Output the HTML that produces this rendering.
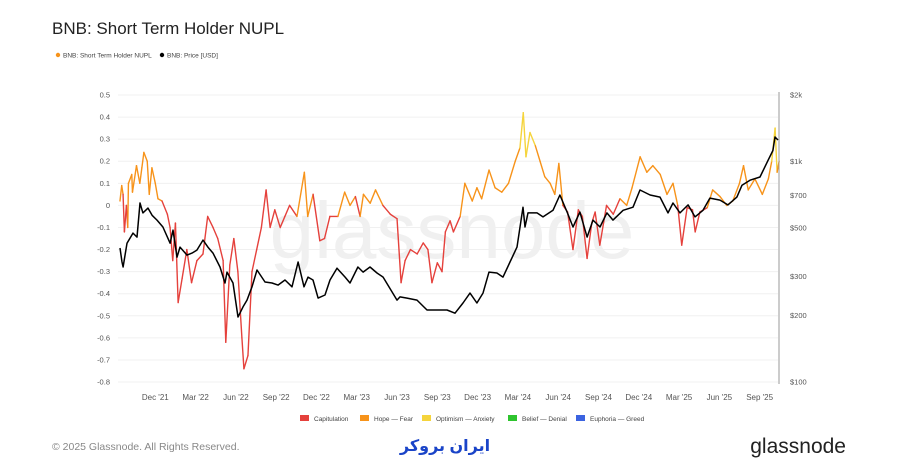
<!DOCTYPE html>
<html><head><meta charset="utf-8">
<style>
body{margin:0;background:#fff;width:900px;height:471px;overflow:hidden;font-family:"Liberation Sans",sans-serif;}
svg{position:absolute;left:0;top:0}
</style></head>
<body>
<svg id="chart" width="900" height="471">
<text x="52" y="34" font-size="17" fill="#222">BNB: Short Term Holder NUPL</text>
<g>
<circle cx="58" cy="55" r="2.2" fill="#f7931a"/>
<text x="63" y="57.5" font-size="6.5" fill="#444">BNB: Short Term Holder NUPL</text>
<circle cx="162" cy="55" r="2.2" fill="#000"/>
<text x="167" y="57.5" font-size="6.5" fill="#444">BNB: Price [USD]</text>
</g>
<text x="452" y="258" font-size="80" fill="#f0f0f0" text-anchor="middle">glassnode</text>
<g id="grid"></g><g id="axes"></g><g id="series"></g>
<line x1="779" y1="92" x2="779" y2="384" stroke="#999" stroke-width="1"/>
<g font-size="6.5" fill="#444">
<rect x="300" y="415" width="9" height="6" fill="#e5413c"/><text x="314" y="421">Capitulation</text>
<rect x="360" y="415" width="9" height="6" fill="#f7931a"/><text x="374" y="421">Hope — Fear</text>
<rect x="422" y="415" width="9" height="6" fill="#f5d43c"/><text x="436" y="421">Optimism — Anxiety</text>
<rect x="508" y="415" width="9" height="6" fill="#2ec42e"/><text x="522" y="421">Belief — Denial</text>
<rect x="576" y="415" width="9" height="6" fill="#3b63e0"/><text x="590" y="421">Euphoria — Greed</text>
</g>
<text x="52" y="450" font-size="10.5" fill="#888">© 2025 Glassnode. All Rights Reserved.</text>
<text x="445" y="451" font-size="16" font-weight="bold" fill="#1a44c8" text-anchor="middle" font-family="'Liberation Sans','DejaVu Sans',sans-serif">ایران بروکر</text>
<text x="846" y="453" font-size="21" fill="#222" text-anchor="end">glassnode</text>
</svg>
<script>
const nuplTicks=[0.5,0.4,0.3,0.2,0.1,0,-0.1,-0.2,-0.3,-0.4,-0.5,-0.6,-0.7,-0.8];
const priceTicks=[2000,1000,700,500,300,200,100];
const priceTickLabels=["$2k","$1k","$700","$500","$300","$200","$100"];
const monthLabels=["Dec '21","Mar '22","Jun '22","Sep '22","Dec '22","Mar '23","Jun '23","Sep '23","Dec '23","Mar '24","Jun '24","Sep '24","Dec '24","Mar '25","Jun '25","Sep '25"];
const monthLabelT=[3,6,9,12,15,18,21,24,27,30,33,36,39,42,45,48];
const nuplT=[0.37,0.5,0.6,0.7,0.85,0.95,1.0,1.25,1.3,1.6,1.85,2.0,2.15,2.4,2.55,2.75,3.0,3.2,3.5,3.9,4.1,4.3,4.5,4.7,5.0,5.35,5.7,6.1,6.55,6.9,7.3,7.65,8.05,8.25,8.55,8.85,9.15,9.45,9.6,9.9,10.2,10.55,10.9,11.25,11.55,11.9,12.3,12.65,13.0,13.55,14.1,14.35,14.75,15.25,15.6,16.0,16.6,17.1,17.5,17.9,18.25,18.5,19.0,19.4,19.95,20.5,21.0,21.3,21.6,22.0,22.5,22.95,23.3,23.6,24.0,24.35,24.6,24.95,25.2,25.7,26.05,26.6,26.95,27.3,27.85,28.3,28.8,29.3,29.8,30.15,30.4,30.6,30.9,31.3,31.65,32.0,32.4,32.75,33.05,33.35,33.7,34.1,34.5,34.8,35.15,35.5,35.75,36.1,36.6,37.1,37.6,38.1,38.5,39.1,39.6,40.05,40.6,41.1,41.55,41.9,42.2,42.6,43.0,43.2,43.55,44.1,44.5,45.05,45.55,46.0,46.5,46.8,47.15,47.65,48.2,48.65,48.9,49.15,49.3,49.45];
const nuplV=[0.02,0.09,0.05,-0.12,0.0,-0.1,0.1,0.14,0.06,0.18,0.1,0.17,0.24,0.2,0.05,0.17,0.1,0.03,0.02,-0.04,-0.1,-0.25,-0.08,-0.44,-0.33,-0.2,-0.35,-0.25,-0.22,-0.05,-0.1,-0.15,-0.25,-0.62,-0.27,-0.15,-0.3,-0.6,-0.74,-0.68,-0.3,-0.2,-0.1,0.07,-0.1,-0.02,-0.1,-0.05,0.0,-0.05,0.15,-0.05,0.05,-0.16,-0.15,-0.05,-0.05,0.06,0.0,0.04,-0.05,0.05,0.01,0.07,0.0,-0.04,-0.06,-0.35,-0.25,-0.2,-0.22,-0.17,-0.2,-0.35,-0.26,-0.3,-0.12,-0.07,-0.12,-0.05,0.1,0.02,0.08,0.03,0.16,0.08,0.06,0.1,0.2,0.26,0.42,0.22,0.33,0.27,0.2,0.13,0.1,0.05,0.19,0.0,-0.03,-0.2,-0.02,-0.05,-0.24,-0.08,-0.03,-0.18,0.0,-0.04,0.03,0.0,0.08,0.22,0.15,0.18,0.14,0.05,0.1,0.0,-0.18,-0.01,-0.02,-0.12,-0.03,-0.01,0.07,0.04,0.0,0.02,0.1,0.18,0.07,0.12,0.05,0.12,0.2,0.35,0.15,0.2];
const priceT=[0.37,0.52,0.6,0.89,1.34,1.64,1.86,2.08,2.46,2.76,3.13,3.57,4.1,4.32,4.62,4.84,5.36,5.73,6.1,6.55,6.92,7.3,7.82,8.19,8.34,8.79,9.16,9.53,9.83,10.2,10.57,11.17,11.69,12.14,12.66,13.18,13.63,14.07,14.37,14.74,15.12,15.64,16.01,16.53,17.13,17.5,18.09,18.47,18.99,19.51,19.96,21.0,21.22,21.74,22.49,23.23,23.6,24.2,24.72,25.32,25.91,26.43,26.95,27.4,27.85,28.44,28.89,29.41,29.93,30.38,30.53,30.75,31.42,31.87,32.61,33.13,33.66,34.1,34.62,35.15,35.59,36.11,36.63,37.08,37.83,38.57,39.09,39.84,40.58,41.18,41.55,42.07,42.67,43.19,43.78,44.3,45.05,45.64,46.31,46.69,47.28,48.03,48.62,48.99,49.14,49.37];
const priceV=[405,350,332,426,473,454,648,584,614,570,542,504,426,488,368,409,376,384,396,440,409,384,332,281,315,281,197,219,235,270,322,284,281,275,290,270,350,270,299,290,240,248,290,328,299,281,332,315,332,312,299,235,243,240,235,212,212,212,212,205,228,253,228,253,315,312,299,350,409,620,504,584,584,560,600,704,589,504,589,454,542,504,584,542,600,620,742,704,689,584,648,584,635,560,600,682,668,635,689,780,822,850,1010,1120,1290,1250];
const NS='http://www.w3.org/2000/svg';
const X0=115,PXM=13.43,Y0=205.4,PXV=220.8;
const xs=t=>X0+t*PXM;
const yL=v=>Y0-v*PXV;
const yR=p=>382-(Math.log10(p)-2)*220.6;
function mk(tag,attrs,parent){const e=document.createElementNS(NS,tag);for(const k in attrs)e.setAttribute(k,attrs[k]);parent.appendChild(e);return e;}
const grid=document.getElementById('grid'),axes=document.getElementById('axes'),ser=document.getElementById('series');
nuplTicks.forEach(v=>{
  const l=mk('line',{x1:118,x2:778,y1:yL(v),y2:yL(v),stroke:'#f0f0f0','stroke-width':1},grid);
  
  
  const t=mk('text',{x:110,y:yL(v)+2.5,'font-size':7.5,fill:'#555','text-anchor':'end'},axes);
  t.textContent=(v===0?'0':String(v));
  
  
});
priceTicks.forEach((p,i)=>{
  const t=mk('text',{x:790,y:yR(p)+2.5,'font-size':7.5,fill:'#555'},axes);
  t.textContent=priceTickLabels[i];
  
  
});
monthLabels.forEach((m,i)=>{
  const t=mk('text',{x:xs(monthLabelT[i]),y:400,'font-size':8,fill:'#555','text-anchor':'middle'},axes);
  t.textContent=m;
  
  
});
function col(v){return v<0?'#e5413c':(v<0.25?'#f7931a':'#f5d43c');}
for(let i=0;i<nuplT.length-1;i++){
  const seg=mk('line',{x1:xs(nuplT[i]),y1:yL(nuplV[i]),x2:xs(nuplT[i+1]),y2:yL(nuplV[i+1]),stroke:col((nuplV[i]+nuplV[i+1])/2),'stroke-width':1.4,'stroke-linecap':'round'},ser);
  
  
}
const pd=priceT.map((t,i)=>(i?'L':'M')+xs(t).toFixed(1)+','+yR(priceV[i]).toFixed(1)).join('');
const pl=mk('path',{d:pd,fill:'none',stroke:'#000','stroke-width':1.5,'stroke-linejoin':'round'},ser);


</script>
</body></html>
